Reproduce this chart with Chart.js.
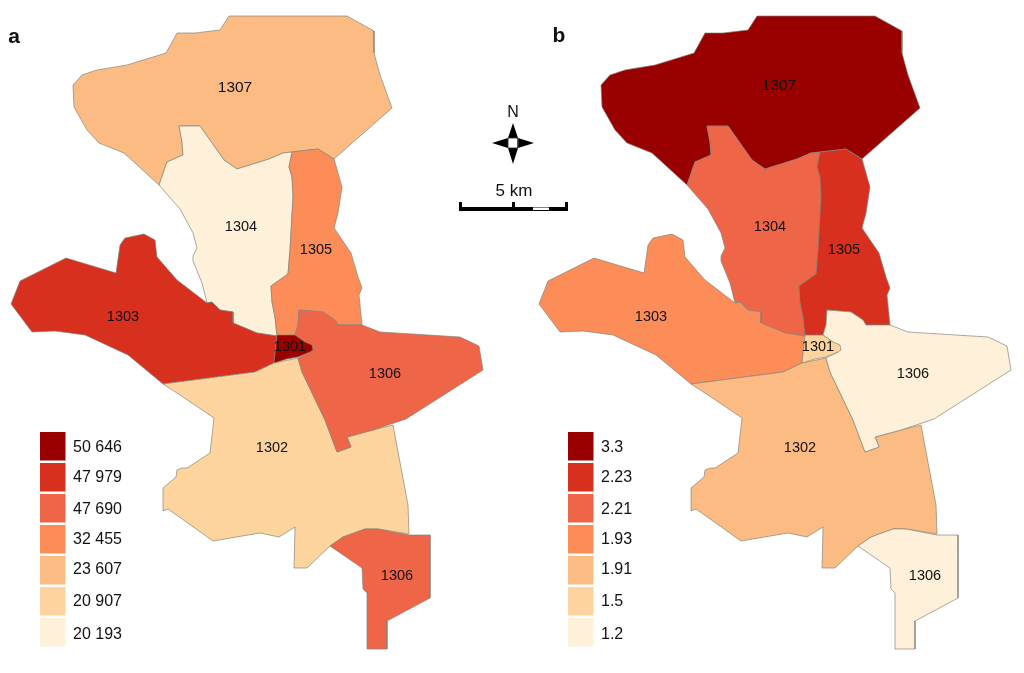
<!DOCTYPE html>
<html>
<head>
<meta charset="utf-8">
<style>
  html, body { margin: 0; padding: 0; background: #fff; }
  canvas { display: block; }
</style>
<script src="https://cdn.jsdelivr.net/npm/chart.js@4"></script>
</head>
<body>
<canvas id="map" width="1024" height="673"></canvas>
<script>
// district outlines as [x, y]; panel b uses the same outlines on its own x axis
const outline1307 = [[229,16],[347,16],[374,31],[374,53],[380,75],[392,108],[334,159],[318,149],[292,152],[283,153],[269,159],[237,169],[224,160],[200,126],[179,126],[182,142],[183,155],[167,162],[159,185],[124,153],[99,143],[87,130],[74,107],[73,85],[82,75],[97,70],[127,65],[166,53],[177,33],[195,33],[220,30]];
const outline1304 = [[179,126],[200,126],[224,160],[237,169],[269,159],[283,153],[292,152],[289,167],[292,177],[293,197],[290,250],[288,274],[271,286],[272,302],[275,317],[277,336],[257,333],[233,323],[233,312],[220,310],[212,302],[207,303],[202,283],[193,261],[193,256],[197,248],[193,233],[180,209],[159,185],[167,162],[183,155],[182,142]];
const outline1305 = [[292,152],[318,149],[334,159],[342,187],[338,213],[334,228],[351,253],[358,277],[362,288],[359,295],[362,325],[338,325],[335,320],[323,312],[299,310],[298,325],[295,335],[277,336],[275,317],[272,302],[271,286],[288,274],[290,250],[293,197],[292,177],[289,167]];
const outline1303 = [[11,304],[20,281],[66,258],[116,273],[120,245],[125,238],[144,234],[155,240],[157,257],[177,280],[207,303],[212,302],[220,310],[233,312],[233,323],[257,333],[277,336],[274,363],[255,372],[163,384],[128,355],[85,335],[55,331],[32,332]];
const outline1302 = [[163,384],[255,372],[274,363],[298,358],[302,372],[325,420],[337,452],[351,447],[347,437],[373,430],[393,425],[408,505],[409,534],[378,529],[365,529],[343,537],[330,546],[307,568],[294,568],[295,527],[279,537],[260,533],[213,541],[168,509],[163,511],[163,488],[176,477],[177,470],[182,468],[187,468],[210,453],[214,418],[180,395]];
const outline1306 = [[299,310],[323,312],[335,320],[338,325],[362,325],[380,332],[460,337],[479,346],[483,370],[406,419],[373,430],[347,437],[351,447],[337,452],[325,420],[302,372],[298,358],[310,352],[305,342],[295,335],[298,325]];
const outline1306South = [[330,546],[343,537],[365,529],[378,529],[409,535],[430,535],[430,598],[387,621],[387,649],[367,649],[367,593],[363,589],[362,568]];
const outline1301 = [[277,335],[295,335],[305,342],[312,345],[313,350],[310,352],[298,357],[287,359],[274,363]];

const regionNames = ["1307", "1304", "1305", "1303", "1302", "1306", "1306", "1301"];
const regionOutlines = [outline1307, outline1304, outline1305, outline1303, outline1302, outline1306, outline1306South, outline1301];
const valuesA = [23607, 20193, 32455, 47979, 20907, 47690, 47690, 50646];
const valuesB = [3.3, 2.21, 2.23, 1.93, 1.91, 1.2, 1.2, 1.5];

const legendA = [50646, 47979, 47690, 32455, 23607, 20907, 20193];
const legendLabelsA = ["50 646", "47 979", "47 690", "32 455", "23 607", "20 907", "20 193"];
const legendB = [3.3, 2.23, 2.21, 1.93, 1.91, 1.5, 1.2];
const legendLabelsB = ["3.3", "2.23", "2.21", "1.93", "1.91", "1.5", "1.2"];
const classColors = ["#990000", "#d7301f", "#ef6548", "#fc8d59", "#fdbb84", "#fdd49e", "#fef0d9"];

const labelSpots = [[235,88],[241,227],[316,250],[123,317],[272,448],[385,374],[397,576],[290,347]];
const labelSpotsB = [[251,86],[242,227],[316,250],[123,317],[272,448],[385,374],[397,576],[290,347]];
const swatchTops = [432, 463, 494, 525, 556, 587, 618];
const legendTextY = [448, 478, 510, 540, 570, 602, 635];

// compass and scale bar
const compassStar = [[513,123],[518,138],[534,143],[518,148],[513,164],[508,148],[492,143],[508,138]];
const compassCentre = [[508,138],[518,138],[518,148],[508,148]];
const scaleBar = [[459,202],[462,202],[462,207],[512,207],[512,202],[515,202],[515,207],[565,207],[565,202],[568,202],[568,211],[459,211]];
const scaleGap = [[533,207.5],[549,207.5],[549,210],[533,210]];

const LINE = "rgba(130,130,118,0.75)";

function closed(pts) {
  return pts.concat([pts[0]]).map(([x, y]) => ({ x, y }));
}

function polygon(pts, xAxisID, fill, border, order) {
  return {
    data: closed(pts),
    xAxisID,
    yAxisID: "y",
    showLine: true,
    fill: "shape",
    tension: 0,
    pointRadius: 0,
    backgroundColor: fill,
    borderColor: border,
    borderWidth: border === "transparent" ? 0 : 0.9,
    order,
  };
}

function panelDatasets(xAxisID, values, legend, base) {
  return regionOutlines.map((pts, i) =>
    polygon(pts, xAxisID, classColors[legend.indexOf(values[i])], LINE, base - i)
  );
}

const datasets = [
  ...panelDatasets("xa", valuesA, legendA, 100),
  ...panelDatasets("xb", valuesB, legendB, 50),
  polygon(compassStar, "xa", "#000", "transparent", 3),
  polygon(compassCentre, "xa", "#fff", "#333", 2),
  polygon(scaleBar, "xa", "#000", "transparent", 1),
  polygon(scaleGap, "xa", "#fff", "transparent", 0),
];

const mapText = {
  id: "mapText",
  afterDatasetsDraw(chart) {
    const { ctx, scales } = chart;
    const py = (v) => scales.y.getPixelForValue(v);
    const put = (text, x, y, font, align) => {
      ctx.font = font;
      ctx.textAlign = align || "center";
      ctx.textBaseline = "middle";
      ctx.fillStyle = "#111";
      ctx.fillText(text, x, y);
    };
    const panel = (axis, spots, labels) => {
      const px = (v) => scales[axis].getPixelForValue(v);
      regionNames.forEach((name, i) => {
        const font = i === 0 ? "15.5px 'Liberation Sans'" : "14.5px 'Liberation Sans'";
        put(name, px(spots[i][0]), py(spots[i][1]), font);
      });
      classColors.forEach((color, i) => {
        ctx.fillStyle = color;
        ctx.fillRect(px(40), py(swatchTops[i]), px(65.5) - px(40), py(swatchTops[i] + 28.5) - py(swatchTops[i]));
        put(labels[i], px(73), py(legendTextY[i]), "16px 'Liberation Sans'", "left");
      });
    };
    ctx.save();
    panel("xa", labelSpots, legendLabelsA);
    panel("xb", labelSpotsB, legendLabelsB);
    put("a", 14, 37, "bold 21px 'Liberation Sans'");
    put("b", 559, 36, "bold 21px 'Liberation Sans'");
    put("N", 513, 113, "16px 'Liberation Sans'");
    put("5 km", 514, 191, "17px 'Liberation Sans'");
    ctx.restore();
  },
};

new Chart(document.getElementById("map"), {
  type: "scatter",
  data: { datasets },
  options: {
    responsive: false,
    animation: false,
    layout: { padding: 0 },
    plugins: { legend: { display: false }, tooltip: { enabled: false } },
    scales: {
      xa: { type: "linear", axis: "x", min: 0, max: 1024, display: false },
      xb: { type: "linear", axis: "x", min: -528, max: 496, display: false },
      y: { type: "linear", reverse: true, min: 0, max: 673, display: false },
    },
  },
  plugins: [mapText],
});
</script>
</body>
</html>
